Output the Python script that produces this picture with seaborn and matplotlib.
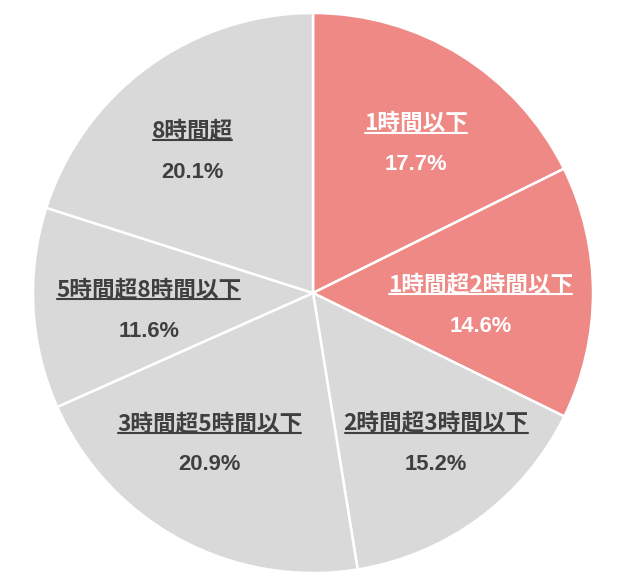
import matplotlib
matplotlib.use("Agg")
import matplotlib.pyplot as plt
import seaborn as sns
from matplotlib.lines import Line2D
import numpy as np

categories = ["1時間以下", "1時間超2時間以下", "2時間超3時間以下",
              "3時間超5時間以下", "5時間超8時間以下", "8時間超"]
values = [17.7, 14.6, 15.2, 20.9, 11.6, 20.1]
pct_labels = ["17.7%", "14.6%", "15.2%", "20.9%", "11.6%", "20.1%"]

RED = "#EE8985"
GRAY = "#D9D9D9"
colors = [RED, RED, GRAY, GRAY, GRAY, GRAY]
text_colors = ["white", "white", "#3F3F3F", "#3F3F3F", "#3F3F3F", "#3F3F3F"]
label_dist = [0.65, 0.60, 0.693, 0.65, 0.589, 0.667]
label_shift = [-2.5, -3.9, 2.9, -6.1, 2.5, 3.9]

sns.set_theme(style="white")
plt.rcParams['font.family'] = ['Noto Sans CJK JP', 'DejaVu Sans']

fig = plt.figure(figsize=(6.4, 5.83), dpi=100)
fig.patch.set_facecolor("white")
ax = fig.add_axes([33 / 640, 10 / 583, 560 / 640, 560 / 583])

wedges, _ = ax.pie(values, colors=colors, startangle=90, counterclock=False,
                   radius=1.0,
                   wedgeprops=dict(edgecolor="white", linewidth=1.8))
ax.set_xlim(-1, 1)
ax.set_ylim(-1, 1)
ax.set_aspect("equal")
ax.axis("off")

off = 19.5 / 280
name_texts = []
for w, name, pct, tc, d, s in zip(wedges, categories, pct_labels, text_colors,
                                   label_dist, label_shift):
    ang = np.deg2rad((w.theta1 + w.theta2) / 2 + s)
    x, y = d * np.cos(ang), d * np.sin(ang)
    t = ax.text(x, y + off, name, ha="center", va="center", fontsize=16.3,
                fontweight="bold", color=tc)
    ax.text(x, y - off, pct, ha="center", va="center_baseline", fontsize=15.8,
            fontweight="bold", color=tc, family=["Liberation Sans", "DejaVu Sans"])
    name_texts.append((t, tc))

fig.canvas.draw()
renderer = fig.canvas.get_renderer()
inv = fig.transFigure.inverted()
for t, tc in name_texts:
    bb = t.get_window_extent(renderer)
    (x0, y0) = inv.transform((bb.x0 + 1, bb.y0 + 2))
    (x1, _) = inv.transform((bb.x1 - 1, bb.y0 + 2))
    fig.add_artist(Line2D([x0, x1], [y0, y0], color=tc, linewidth=1.5,
                          transform=fig.transFigure))

fig.savefig("out.png", dpi=100, facecolor="white")
